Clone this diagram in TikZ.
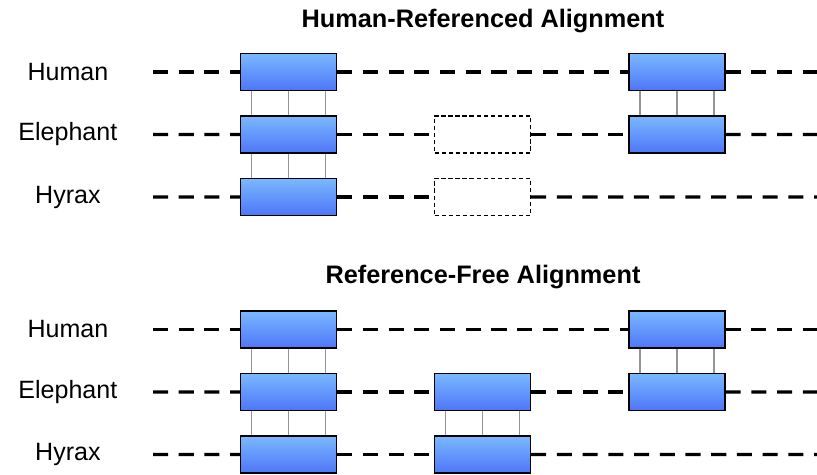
\documentclass[tikz,border=0pt]{standalone}
\usepackage{fontspec}
\setmainfont{Liberation Sans}
\usetikzlibrary{positioning}
\definecolor{blocktop}{RGB}{122,184,255}
\definecolor{blockbot}{RGB}{78,118,248}
\tikzstyle{block} = [
    rectangle,
    minimum width=2.4cm,
    minimum height=0.925cm,
    inner sep=0pt,
    draw=black,
    line width=0.9pt,
    top color=blocktop,
    bottom color=blockbot
]
\tikzstyle{gapblock} = [
    rectangle,
    minimum width=2.4cm,
    minimum height=0.925cm,
    inner sep=0pt,
    draw=black,
    line width=0.75pt,
    dash pattern=on 3pt off 2pt
]
\tikzstyle{species} = [
    anchor=east,
    inner sep=0pt,
    font=\fontsize{17.8}{21}\selectfont
]
\tikzstyle{heading} = [
    inner sep=0pt,
    font=\fontsize{18}{21}\selectfont\bfseries
]
\tikzstyle{seqline} = [
    line width=2.3pt,
    dash pattern=on 10.7pt off 7.6pt
]
\tikzstyle{link} = [
    draw=black!42,
    line width=1.1pt
]

\begin{document}
\begin{tikzpicture}[node distance=1.5625cm]
        \useasboundingbox (0,0) rectangle (20.425,-11.875);

        % human-referenced
        \node (title1) [heading] at (12.075,-0.525) {Human-Referenced Alignment};
        \node (hum1L) [block] at (7.2125,-1.8) {};
        \node (ele1L) [block, below of=hum1L] {};
        \node (hyr1L) [block, below of=ele1L] {};
        \node (ele1M) [gapblock, right of=ele1L, xshift=3.2875cm] {};
        \node (hyr1M) [gapblock, below of=ele1M] {};
        \node (hum1R) [block, right of=hum1L, xshift=8.15cm] {};
        \node (ele1R) [block, below of=hum1R] {};

        \node (lblhum1) [species] at (2.7125,-1.8) {Human};
        \node (lblele1) [species, below of=lblhum1] {Elephant};
        \node (lblhyr1) [species, below of=lblele1] {Hyrax};

        \coordinate (hum1S) at (3.825,-1.8);
        \coordinate (ele1S) at (3.825,-3.3625);
        \coordinate (hyr1S) at (3.825,-4.925);
        \coordinate (hum1E) at (20.45,-1.8);
        \coordinate (ele1E) at (20.45,-3.3625);
        \coordinate (hyr1E) at (20.45,-4.925);

        \draw[seqline] (hum1S) -- (hum1L.west);
        \draw[seqline] (hum1L.east) -- (hum1R.west);
        \draw[seqline] (hum1R.east) -- (hum1E);
        \draw[seqline] (ele1S) -- (ele1L.west);
        \draw[seqline] (ele1L.east) -- (ele1M.west);
        \draw[seqline] (ele1M.east) -- (ele1R.west);
        \draw[seqline] (ele1R.east) -- (ele1E);
        \draw[seqline] (hyr1S) -- (hyr1L.west);
        \draw[seqline] (hyr1L.east) -- (hyr1M.west);
        \draw[seqline] (hyr1M.east) -- (hyr1E);

        \foreach \dx in {-0.925,0,0.925} {
            \draw[link] ([xshift=\dx cm]hum1L.south) -- ([xshift=\dx cm]ele1L.north);
            \draw[link] ([xshift=\dx cm]ele1L.south) -- ([xshift=\dx cm]hyr1L.north);
            \draw[link] ([xshift=\dx cm]hum1R.south) -- ([xshift=\dx cm]ele1R.north);
        }

        % reference-free
        \node (title2) [heading] at (12.075,-6.925) {Reference-Free Alignment};
        \node (hum2L) [block] at (7.2125,-8.2375) {};
        \node (ele2L) [block, below of=hum2L] {};
        \node (hyr2L) [block, below of=ele2L] {};
        \node (ele2M) [block, right of=ele2L, xshift=3.2875cm] {};
        \node (hyr2M) [block, below of=ele2M] {};
        \node (hum2R) [block, right of=hum2L, xshift=8.15cm] {};
        \node (ele2R) [block, below of=hum2R] {};

        \node (lblhum2) [species] at (2.7125,-8.2375) {Human};
        \node (lblele2) [species, below of=lblhum2] {Elephant};
        \node (lblhyr2) [species, below of=lblele2] {Hyrax};

        \coordinate (hum2S) at (3.825,-8.2375);
        \coordinate (ele2S) at (3.825,-9.8);
        \coordinate (hyr2S) at (3.825,-11.3625);
        \coordinate (hum2E) at (20.45,-8.2375);
        \coordinate (ele2E) at (20.45,-9.8);
        \coordinate (hyr2E) at (20.45,-11.3625);

        \draw[seqline] (hum2S) -- (hum2L.west);
        \draw[seqline] (hum2L.east) -- (hum2R.west);
        \draw[seqline] (hum2R.east) -- (hum2E);
        \draw[seqline] (ele2S) -- (ele2L.west);
        \draw[seqline] (ele2L.east) -- (ele2M.west);
        \draw[seqline] (ele2M.east) -- (ele2R.west);
        \draw[seqline] (ele2R.east) -- (ele2E);
        \draw[seqline] (hyr2S) -- (hyr2L.west);
        \draw[seqline] (hyr2L.east) -- (hyr2M.west);
        \draw[seqline] (hyr2M.east) -- (hyr2E);

        \foreach \dx in {-0.925,0,0.925} {
            \draw[link] ([xshift=\dx cm]hum2L.south) -- ([xshift=\dx cm]ele2L.north);
            \draw[link] ([xshift=\dx cm]ele2L.south) -- ([xshift=\dx cm]hyr2L.north);
            \draw[link] ([xshift=\dx cm]ele2M.south) -- ([xshift=\dx cm]hyr2M.north);
            \draw[link] ([xshift=\dx cm]hum2R.south) -- ([xshift=\dx cm]ele2R.north);
        }
    \end{tikzpicture}
\end{document}
